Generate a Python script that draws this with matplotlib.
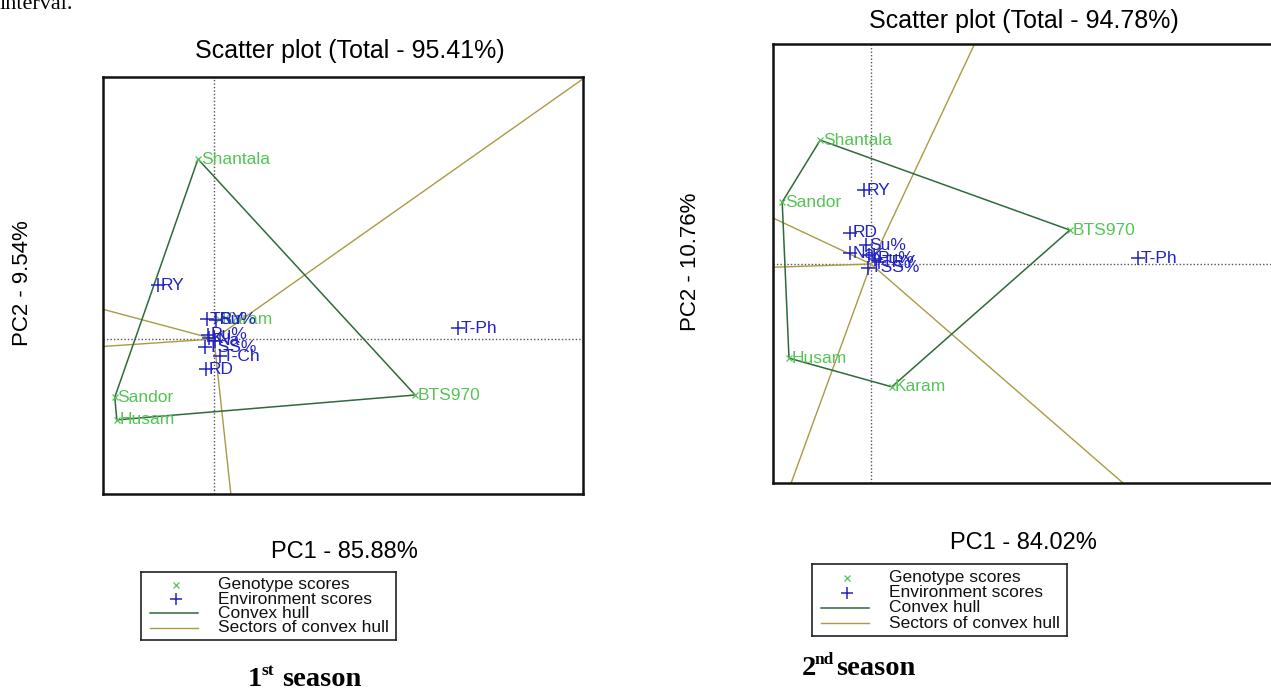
import matplotlib.pyplot as plt
import numpy as np

plt.rcParams['font.family'] = ['Liberation Sans', 'DejaVu Sans']

W, H = 1271, 693

# ---- 1st season scores (PC1, PC2) ----
GEN_NAMES_1 = ['Shantala', 'Karam', 'Sandor', 'Husam', 'BTS970']
GEN_PC1_1 = [-0.40, 0.12, -2.48, -2.43, 5.03]
GEN_PC2_1 = [5.14, 0.57, -1.66, -2.31, -1.60]

ENV_NAMES_1 = ['RY', 'TRY', 'Su%', 'Pu%', 'K', 'Na', 'TSS%', 'T-Ch', 'RD', 'T-Ph']
ENV_PC1_1 = [-1.40, -0.18, 0.05, -0.15, -0.12, 0.02, -0.22, 0.15, -0.20, 6.10]
ENV_PC2_1 = [1.54, 0.57, 0.55, 0.12, 0.02, -0.05, -0.23, -0.49, -0.86, 0.31]

# ---- 2nd season scores (PC1, PC2) ----
GEN_NAMES_2 = ['Shantala', 'Sandor', 'BTS970', 'Husam', 'Karam']
GEN_PC1_2 = [-1.27, -2.22, 4.97, -2.05, 0.52]
GEN_PC2_2 = [3.54, 1.77, 0.97, -2.69, -3.51]

ENV_NAMES_2 = ['RY', 'RD', 'Su%', 'Na', 'K', 'Pu%', 'TRY', 'TSS%', 'T-Ph']
ENV_PC1_2 = [-0.17, -0.52, -0.12, -0.52, -0.05, 0.10, 0.20, -0.08, 6.67]
ENV_PC2_2 = [2.11, 0.89, 0.54, 0.31, 0.25, 0.15, 0.05, -0.11, 0.17]

TITLES = ['Scatter plot (Total - 95.41%)', 'Scatter plot (Total - 94.78%)']
XLABELS = ['PC1 - 85.88%', 'PC1 - 84.02%']
YLABELS = ['PC2 - 9.54%', 'PC2 - 10.76%']
CAPTIONS = [('1', 'st'), ('2', 'nd')]

GEN_COLOR = '#55c455'
ENV_COLOR = '#2323c0'
HULL_COLOR = '#2f6a3a'
SECTOR_COLOR = '#a99b45'


def fx(px):
    return px / W


def fy(py):
    return 1 - py / H


def convex_hull(pts):
    pts = sorted(pts)
    def cross(o, a, b):
        return (a[0] - o[0]) * (b[1] - o[1]) - (a[1] - o[1]) * (b[0] - o[0])
    lower, upper = [], []
    for p in pts:
        while len(lower) >= 2 and cross(lower[-2], lower[-1], p) <= 0:
            lower.pop()
        lower.append(p)
    for p in reversed(pts):
        while len(upper) >= 2 and cross(upper[-2], upper[-1], p) <= 0:
            upper.pop()
        upper.append(p)
    return lower[:-1] + upper[:-1]


def draw_panel(ax, gx, gy, gnames, ex, ey, enames, xlim, ylim):
    ax.set_xlim(*xlim)
    ax.set_ylim(*ylim)
    ax.set_xticks([])
    ax.set_yticks([])
    for s in ax.spines.values():
        s.set_linewidth(1.8)
        s.set_color('#111111')

    ax.axhline(0, color='#555555', lw=1, ls=(0, (1, 1.5)), zorder=1)
    ax.axvline(0, color='#555555', lw=1, ls=(0, (1, 1.5)), zorder=1)

    hull = convex_hull(list(zip(gx, gy)))
    hull = np.array(hull + [hull[0]])

    # sector lines: rays from origin perpendicular to each hull side
    for p, q in zip(hull[:-1], hull[1:]):
        d = q - p
        t = -np.dot(p, d) / np.dot(d, d)
        foot = p + t * d
        end = foot / np.linalg.norm(foot) * 60
        ax.plot([0, end[0]], [0, end[1]], color=SECTOR_COLOR, lw=1, zorder=2)

    ax.plot(hull[:, 0], hull[:, 1], color=HULL_COLOR, lw=1.1, zorder=3)

    ax.plot(gx, gy, ls='none', marker='x', ms=5, mew=0.9, color=GEN_COLOR, zorder=4)
    for x, y, n in zip(gx, gy, gnames):
        ax.annotate(n, (x, y), xytext=(2, 0), textcoords='offset points',
                    va='center', ha='left', color=GEN_COLOR, fontsize=12.5, zorder=4)

    ax.plot(ex, ey, ls='none', marker='+', ms=10, mew=1.1, color=ENV_COLOR, zorder=5)
    for x, y, n in zip(ex, ey, enames):
        ax.annotate(n, (x, y), xytext=(2, 0), textcoords='offset points',
                    va='center', ha='left', color=ENV_COLOR, fontsize=12.5, zorder=5)


def draw_legend(fig, x0, y0, x1, y1):
    lg = fig.add_axes([fx(x0), fy(y1), fx(x1 - x0), (y1 - y0) / H])
    lg.set_xlim(0, 1)
    lg.set_ylim(0, 1)
    lg.set_xticks([])
    lg.set_yticks([])
    for s in lg.spines.values():
        s.set_linewidth(1.2)
        s.set_color('#222222')
    rows = [0.81, 0.60, 0.39, 0.18]
    lg.plot([0.137], [rows[0]], marker='x', ms=5, mew=0.9, color=GEN_COLOR)
    lg.plot([0.137], [rows[1]], marker='+', ms=9, mew=1.1, color=ENV_COLOR)
    lg.plot([0.035, 0.225], [rows[2]] * 2, color=HULL_COLOR, lw=1.1)
    lg.plot([0.035, 0.225], [rows[3]] * 2, color=SECTOR_COLOR, lw=1)
    labels = ['Genotype scores', 'Environment scores', 'Convex hull', 'Sectors of convex hull']
    for r, t in zip(rows, labels):
        lg.text(0.30, r, t, va='center', ha='left', fontsize=12.5, color='#111111')


fig = plt.figure(figsize=(W / 100, H / 100), dpi=100)

fig.text(fx(0), fy(9), 'interval.', family='Liberation Serif', fontsize=16,
         va='baseline', ha='left')

# left panel: box 103..583 x 77..494, origin at (214, 339)
ax1 = fig.add_axes([fx(103), fy(494), fx(480), 417 / H])
draw_panel(ax1, GEN_PC1_1, GEN_PC2_1, GEN_NAMES_1, ENV_PC1_1, ENV_PC2_1, ENV_NAMES_1,
           ((103 - 214) / 40, (583 - 214) / 40), ((339 - 494) / 35, (339 - 77) / 35))

# right panel: box 773..1285 x 44..483, origin at (871, 264)
ax2 = fig.add_axes([fx(773), fy(483), fx(512), 439 / H])
draw_panel(ax2, GEN_PC1_2, GEN_PC2_2, GEN_NAMES_2, ENV_PC1_2, ENV_PC2_2, ENV_NAMES_2,
           ((773 - 871) / 40, (1285 - 871) / 40), ((264 - 483) / 35, (264 - 44) / 35))

# titles and axis labels
fig.text(fx(350), fy(51), TITLES[0], ha='center', va='center', fontsize=18)
fig.text(fx(1024), fy(21), TITLES[1], ha='center', va='center', fontsize=18)
fig.text(fx(344), fy(552), XLABELS[0], ha='center', va='center', fontsize=17)
fig.text(fx(1023), fy(543), XLABELS[1], ha='center', va='center', fontsize=17)
fig.text(fx(22), fy(283), YLABELS[0], ha='center', va='center', fontsize=16, rotation=90)
fig.text(fx(691), fy(262), YLABELS[1], ha='center', va='center', fontsize=16, rotation=90)

draw_legend(fig, 141, 572, 396, 640)
draw_legend(fig, 812, 564, 1067, 636)

# season captions
serif = dict(family='Liberation Serif', weight='bold', va='baseline', ha='left')
for (num, sup), (x, base) in zip(CAPTIONS, [(248, 686), (802, 675)]):
    fig.text(fx(x), fy(base), num, fontsize=20.5, **serif)
    fig.text(fx(x + 13), fy(base - 11), sup, fontsize=12.5, **serif)
    fig.text(fx(x + 34), fy(base), 'season', fontsize=20.5, **serif)

fig.savefig('out.png', dpi=100)
